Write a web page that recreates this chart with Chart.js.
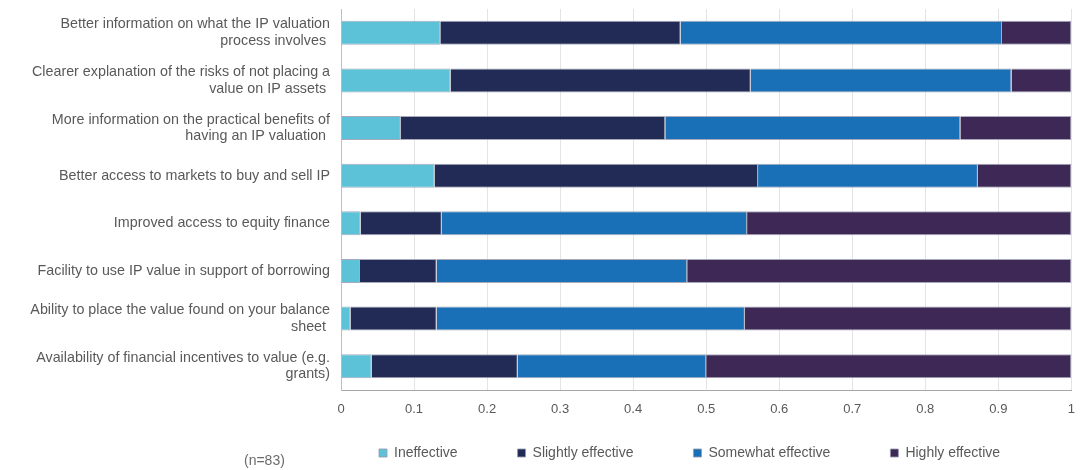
<!DOCTYPE html>
<html>
<head>
<meta charset="utf-8">
<script src="https://cdn.jsdelivr.net/npm/chart.js@4.4.1/dist/chart.umd.min.js"></script>
<style>
html,body{margin:0;padding:0;background:#fff;}
#wrap{width:1087px;height:470px;position:relative;}
</style>
</head>
<body>
<div id="wrap"><canvas id="c" width="1087" height="470"></canvas></div>
<script>
const categories = [
  ["Better information on what the IP valuation", "process involves "],
  ["Clearer explanation of the risks of not placing a", "value on IP assets "],
  ["More information on the practical benefits of", "having an IP valuation "],
  "Better access to markets to buy and sell IP",
  "Improved access to equity finance",
  "Facility to use IP value in support of borrowing",
  ["Ability to place the value found on your balance", "sheet "],
  ["Availability of financial incentives to value (e.g.", "grants)"]
];
const seriesNames = ["Ineffective", "Slightly effective", "Somewhat effective", "Highly effective"];
const ineffective = [0.136, 0.150, 0.082, 0.128, 0.027, 0.026, 0.013, 0.042];
const slightly    = [0.329, 0.411, 0.362, 0.443, 0.111, 0.105, 0.118, 0.200];
const somewhat    = [0.440, 0.357, 0.404, 0.301, 0.418, 0.343, 0.422, 0.258];
const highly      = [0.095, 0.082, 0.152, 0.128, 0.444, 0.526, 0.447, 0.500];
const xTickLabels = ["0", "0.1", "0.2", "0.3", "0.4", "0.5", "0.6", "0.7", "0.8", "0.9", "1"];
const noteText = "(n=83)";

const colors = ["#5bc2d8", "#212b55", "#1a70b6", "#3e2856"];
const FONT = "'Liberation Sans', Arial, Helvetica, sans-serif";
const values = [ineffective, slightly, somewhat, highly];

// place the legend row where the reference has it (below the tick labels)
const legendPlace = {
  id: 'legendPlace',
  afterLayout(chart) {
    const lg = chart.legend;
    if (!lg) return;
    const pad = lg.options.labels.padding;
    lg.left = 379 - pad;
    lg.right = 1087;
    lg.top = 446 - pad;
    lg.bottom = 470;
  },
  afterDraw(chart) {
    const ctx = chart.ctx;
    ctx.save();
    ctx.font = "14px " + FONT;
    ctx.fillStyle = "#6b6b6b";
    ctx.textBaseline = "middle";
    ctx.textAlign = "left";
    ctx.fillText(noteText, 244, 461);
    ctx.restore();
  }
};

new Chart(document.getElementById('c'), {
  type: 'bar',
  data: {
    labels: categories,
    datasets: seriesNames.map((n, i) => ({
      label: n,
      data: values[i],
      backgroundColor: colors[i],
      borderColor: 'rgba(150,155,175,0.85)',
      borderWidth: 1,
      barPercentage: 0.505,
      categoryPercentage: 1.0
    }))
  },
  options: {
    indexAxis: 'y',
    responsive: false,
    animation: false,
    devicePixelRatio: 1,
    layout: { padding: { left: 0, right: 15, top: 9, bottom: 0 } },
    scales: {
      x: {
        stacked: true,
        min: 0, max: 1,
        afterFit(s) { s.height = 50; },
        ticks: {
          stepSize: 0.1,
          padding: 12,
          color: '#595959',
          font: { family: FONT, size: 13 },
          callback: (v, i) => xTickLabels[i]
        },
        grid: { color: '#e4e4e4', lineWidth: 1, drawTicks: false },
        border: { display: true, color: '#a6a6a6', width: 1 }
      },
      y: {
        stacked: true,
        afterFit(s) { s.width = 341; s.paddingTop = 0; s.paddingBottom = 0; },
        ticks: {
          padding: 11,
          color: '#595959',
          font: { family: FONT, size: 14.3, lineHeight: 1.17 }
        },
        grid: { display: false, drawTicks: false },
        border: { display: true, color: '#bfbfbf', width: 1 }
      }
    },
    plugins: {
      legend: {
        position: 'bottom',
        align: 'start',
        maxHeight: 30,
        labels: {
          boxWidth: 8,
          boxHeight: 8,
          padding: 60,
          color: '#595959',
          font: { family: FONT, size: 14 }
        }
      },
      tooltip: { enabled: false }
    }
  },
  plugins: [legendPlace]
});
</script>
</body>
</html>
